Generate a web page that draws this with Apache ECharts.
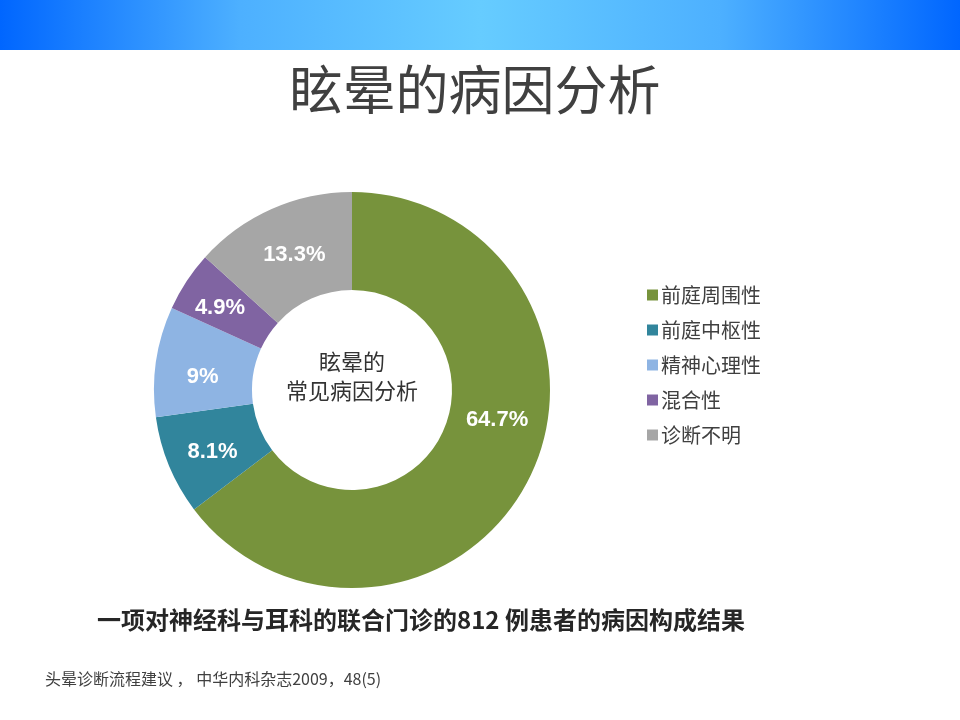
<!DOCTYPE html>
<html><head><meta charset="utf-8">
<script src="https://cdn.jsdelivr.net/npm/echarts@6/dist/echarts.min.js"></script>
<style>html,body{margin:0;padding:0;background:#fff}#c{width:960px;height:720px}</style>
</head><body><div id="c"></div>
<script>
const categories = ['前庭周围性','前庭中枢性','精神心理性','混合性','诊断不明'];
const values = [64.7, 8.1, 9, 4.9, 13.3];
const colors = ['#77933C','#31859C','#8EB4E3','#8064A2','#A6A6A6'];
const labelOffsets = [[9,-38],[1,4],[1,9],[-5,1],[4,4]];
const titleText = '眩晕的病因分析';
const centerText = '眩晕的\n常见病因分析';
const subtitleText = '一项对神经科与耳科的联合门诊的812 例患者的病因构成结果';
const footText = '头晕诊断流程建议 ， 中华内科杂志2009，48(5)';

const chart = echarts.init(document.getElementById('c'));
const CJK = '"Noto Sans CJK SC", sans-serif';
chart.setOption({
  animation: false,
  backgroundColor: '#ffffff',
  graphic: [
    { type: 'rect', shape: {x:0, y:0, width:960, height:50}, z: -1,
      style: { fill: new echarts.graphic.LinearGradient(0,0,1,0,[
        {offset:0, color:'#0066FF'},{offset:0.25, color:'#4DB0FF'},
        {offset:0.5, color:'#66CCFF'},{offset:0.75, color:'#4DB0FF'},{offset:1, color:'#0066FF'}]) } },
    { type: 'text', x: 475, y: 90, style: { text: titleText, fill:'#404040', font: '400 53px ' + CJK, align:'center', verticalAlign:'middle' } },
    { type: 'text', x: 352, y: 376, style: { text: centerText, fill:'#333333', font: '400 22px ' + CJK, align:'center', verticalAlign:'middle', lineHeight: 29 } },
    { type: 'text', x: 421, y: 620, style: { text: subtitleText, fill:'#262626', font: 'bold 24px ' + CJK, align:'center', verticalAlign:'middle' } },
    { type: 'text', x: 45, y: 679, style: { text: footText, fill:'#404040', font: '400 16px ' + CJK, align:'left', verticalAlign:'middle' } }
  ],
  legend: {
    orient: 'vertical', left: 642, top: 280, itemGap: 15, itemWidth: 11, itemHeight: 11,
    icon: 'rect', data: categories,
    textStyle: { fontSize: 20, color: '#404040', fontFamily: CJK, padding: [0,0,0,-2] }
  },
  series: [{
    type: 'pie', center: [352, 390], radius: [100, 198], startAngle: 90, clockwise: true,
    avoidLabelOverlap: false,
    label: { show: true, position: 'inside', color: '#fff', fontSize: 22, fontWeight: 'bold', fontFamily: 'Liberation Sans, Arial, sans-serif',
      formatter: p => p.value + '%' },
    labelLine: { show: false },
    itemStyle: { borderWidth: 0 },
    emphasis: { disabled: true },
    data: categories.map((n,i) => ({ name: n, value: values[i], itemStyle: { color: colors[i] },
      label: { offset: labelOffsets[i] } }))
  }]
});
</script></body></html>
